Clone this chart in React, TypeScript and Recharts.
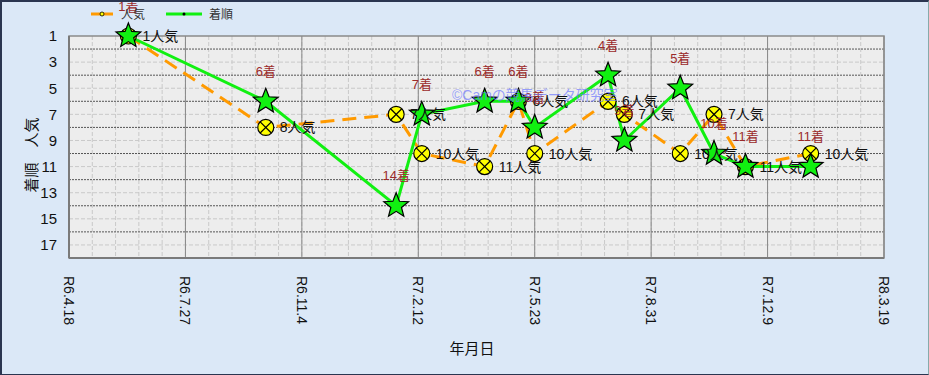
import React from 'react';
import { LineChart, Line, XAxis, YAxis, CartesianGrid, ReferenceArea, LabelList } from 'recharts';

// race dates (western calendar), finishing position, popularity rank
const raceDates = [
  '2024-06-08', '2024-10-04', '2025-01-24', '2025-02-15', '2025-04-10', '2025-05-09', '2025-05-23',
  '2025-07-25', '2025-08-08', '2025-09-25', '2025-10-24', '2025-11-20', '2026-01-15',
];
const finishes = [1, 6, 14, 7, 6, 6, 8, 4, 9, 5, 10, 11, 11];
const popularity = [1, 8, 7, 10, 11, 6, 10, 6, 7, 10, 7, 11, 10];

const xTickDays = [0, 100, 200, 300, 400, 500, 600, 700];
const xTickLabels = ['R6.4.18', 'R6.7.27', 'R6.11.4', 'R7.2.12', 'R7.5.23', 'R7.8.31', 'R7.12.9', 'R8.3.19'];
const yTicks = [1, 3, 5, 7, 9, 11, 13, 15, 17];

const BASE = Date.UTC(2024, 3, 18);
const toDay = (s: string) => {
  const [y, m, d] = s.split('-').map(Number);
  return Math.round((Date.UTC(y, m - 1, d) - BASE) / 86400000);
};

const data = raceDates.map((d, i) => ({ day: toDay(d), finish: finishes[i], pop: popularity[i] }));

const minorX = Array.from({ length: 36 }, (_, i) => i * 20);
const majorY = [2, 4, 6, 8, 10, 12, 14, 16];
const minorY = [3, 5, 7, 9, 11, 13, 15, 17];

const FONT = "'Liberation Sans', 'Noto Sans CJK JP', sans-serif";

const starPath = (cx: number, cy: number, R: number, r: number) => {
  let d = '';
  for (let i = 0; i < 10; i++) {
    const rad = i % 2 === 0 ? R : r;
    const a = -Math.PI / 2 + (i * Math.PI) / 5;
    d += `${i === 0 ? 'M' : 'L'}${cx + rad * Math.cos(a)},${cy + rad * Math.sin(a)}`;
  }
  return d + 'Z';
};

const StarDot = (props: any) => {
  const { cx, cy, index } = props;
  if (cx == null || cy == null) return <g key={`s-${index}`} />;
  return <path key={`s-${index}`} d={starPath(cx, cy, 13, 5.6)} fill="#11f011" stroke="#000" strokeWidth={1.2} />;
};

const CrossDot = (props: any) => {
  const { cx, cy, index } = props;
  if (cx == null || cy == null) return <g key={`c-${index}`} />;
  const k = 5.6;
  return (
    <g key={`c-${index}`}>
      <circle cx={cx} cy={cy} r={8} fill="#ffff00" stroke="#000" strokeWidth={1.2} />
      <line x1={cx - k} y1={cy - k} x2={cx + k} y2={cy + k} stroke="#000" strokeWidth={1.2} />
      <line x1={cx - k} y1={cy + k} x2={cx + k} y2={cy - k} stroke="#000" strokeWidth={1.2} />
    </g>
  );
};

const FinishLabel = (props: any) => {
  const { x, y, value } = props;
  return (
    <text x={x} y={y - 30} textAnchor="middle" dominantBaseline="central" fontSize={13} fill="#9b2a2a" fontFamily={FONT}>
      {`${value}着`}
    </text>
  );
};

const PopLabel = (props: any) => {
  const { x, y, value } = props;
  return (
    <text x={x + 14} y={y} textAnchor="start" dominantBaseline="central" fontSize={14} fill="#111" fontFamily={FONT}>
      {`${value}人気`}
    </text>
  );
};

const XTick = (props: any) => {
  const { x, y, payload } = props;
  const i = xTickDays.indexOf(payload.value);
  return (
    <g transform={`translate(${x},${y})`}>
      <text transform="rotate(90)" x={10} y={0} dominantBaseline="central" textAnchor="start" fontSize={14} fill="#111" fontFamily={FONT}>
        {xTickLabels[i]}
      </text>
    </g>
  );
};

export default function App() {
  return (
    <div style={{ position: 'absolute', left: 0, top: 0, width: 929, height: 375, background: '#dbe8f7', fontFamily: FONT }}>
      <LineChart width={929} height={375} data={data} margin={{ top: 36, right: 45, left: 0, bottom: 37 }}>
        <CartesianGrid fill="#ededed" stroke="#c9c9c9" strokeDasharray="4 2" verticalValues={minorX} horizontalValues={minorY} />
        <CartesianGrid stroke="#555" strokeDasharray="2 1" vertical={false} horizontalValues={majorY} />
        <CartesianGrid stroke="#888" horizontal={false} verticalValues={xTickDays} />
        <XAxis
          type="number"
          dataKey="day"
          domain={[0, 700]}
          ticks={xTickDays}
          interval={0}
          height={80}
          tick={<XTick />}
          tickLine={false}
          axisLine={{ stroke: '#7a7a7a', strokeWidth: 2 }}
        />
        <YAxis
          reversed
          domain={[1, 18]}
          ticks={yTicks}
          interval={0}
          width={69}
          tickSize={0}
          tickMargin={12}
          tick={{ fontSize: 15, fill: '#111', fontFamily: FONT }}
          axisLine={{ stroke: '#7a7a7a', strokeWidth: 2 }}
        />
        <ReferenceArea x1={0} x2={700} y1={1} y2={18} fill="none" stroke="#8a8a8a" strokeWidth={1.5} ifOverflow="visible" />
        <Line
          type="linear"
          dataKey="pop"
          stroke="#ff9a00"
          strokeWidth={3}
          strokeDasharray="14 8"
          dot={CrossDot}
          activeDot={false}
          isAnimationActive={false}
        >
          <LabelList dataKey="pop" content={PopLabel} />
        </Line>
        <Line
          type="linear"
          dataKey="finish"
          stroke="#11f011"
          strokeWidth={3}
          dot={StarDot}
          activeDot={false}
          isAnimationActive={false}
        >
          <LabelList dataKey="finish" content={FinishLabel} />
        </Line>
      </LineChart>

      {/* legend */}
      <div style={{ position: 'absolute', left: 90, top: 5, display: 'flex', alignItems: 'center', fontSize: 12, color: '#333' }}>
        <svg width={24} height={10}>
          <line x1={1} y1={5} x2={23} y2={5} stroke="#ff9a00" strokeWidth={3} />
          <circle cx={12} cy={5} r={2} fill="#ff0" stroke="#000" strokeWidth={0.8} />
        </svg>
        <span style={{ marginLeft: 7 }}>人気</span>
        <svg width={38} height={10} style={{ marginLeft: 20 }}>
          <line x1={1} y1={5} x2={37} y2={5} stroke="#11f011" strokeWidth={3} />
          <circle cx={19} cy={5} r={1.5} fill="#000" />
        </svg>
        <span style={{ marginLeft: 6 }}>着順</span>
      </div>

      {/* watermark */}
      <div style={{ position: 'absolute', left: 452, top: 84, fontSize: 14, color: 'rgba(110,120,255,0.7)', whiteSpace: 'nowrap' }}>
        ©Camの競馬データ研究室
      </div>

      {/* axis titles */}
      <div style={{ position: 'absolute', left: 30, top: 155, transform: 'translate(-50%,-50%) rotate(-90deg)', fontSize: 15, color: '#111', whiteSpace: 'nowrap' }}>
        着順　人気
      </div>
      <div style={{ position: 'absolute', left: 472, top: 347, transform: 'translate(-50%,-50%)', fontSize: 15, color: '#111' }}>
        年月日
      </div>

      <div style={{ position: 'absolute', inset: 0, borderTop: '2px solid #2a3550', borderLeft: '2px solid #2a3550', borderBottom: '1px solid #2a3550', borderRight: '1px solid #8aa', pointerEvents: 'none' }} />
    </div>
  );
}
